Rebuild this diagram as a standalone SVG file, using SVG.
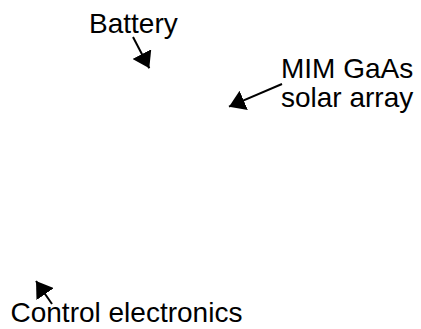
<svg xmlns="http://www.w3.org/2000/svg" width="421" height="329" viewBox="0 0 421 329">
<style>
.lbl{font-family:"Liberation Sans",Arial,sans-serif;font-size:28px;fill:#000}
.conn{stroke:#000;stroke-width:2;fill:none;marker-end:url(#ah)}
</style>
<defs>
<marker id="ah" markerUnits="userSpaceOnUse" markerWidth="17" markerHeight="21" refX="16" refY="10.5" orient="auto">
<path d="M0,0 L16,10.5 L0,21 z" fill="#000"/>
</marker>
</defs>
<rect width="421" height="329" fill="#fff"/>
<g id="battery"><text class="lbl" x="89" y="33">Battery</text></g>
<g id="solar-array"><text class="lbl" x="281" y="78">MIM GaAs</text><text class="lbl" x="281" y="107">solar array</text></g>
<g id="control-electronics"><text class="lbl" x="10.5" y="322">Control electronics</text></g>
<g id="connectors">
<line class="conn" x1="133" y1="37" x2="149.3" y2="68.3"/>
<line class="conn" x1="282" y1="84" x2="229" y2="106.7"/>
<line class="conn" x1="52" y1="304" x2="36" y2="281"/>
</g>
</svg>
